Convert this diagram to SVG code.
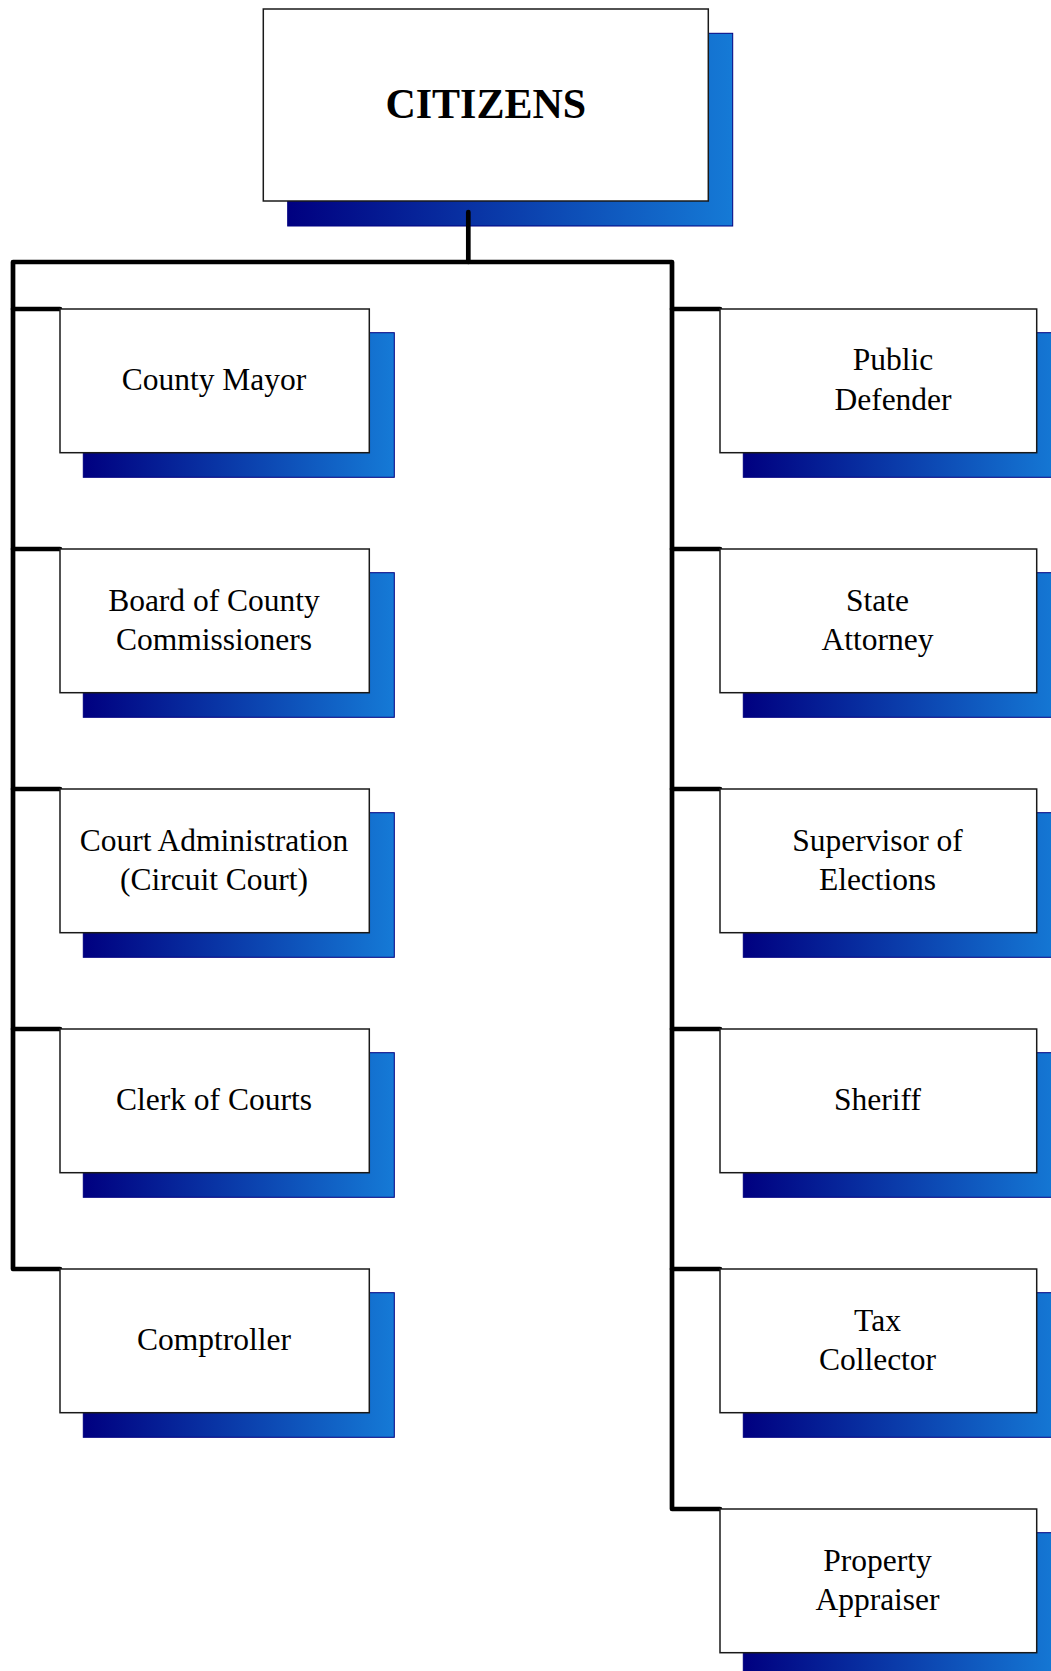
<svg xmlns="http://www.w3.org/2000/svg" width="1051" height="1671" viewBox="0 0 1051 1671">
<defs>
<linearGradient id="shade" x1="0" y1="0" x2="1" y2="0">
<stop offset="0" stop-color="#000080"/>
<stop offset="1" stop-color="#157ad6"/>
</linearGradient>
<style>
.sh{fill:url(#shade);stroke:#000080;stroke-width:1}
.bx{fill:#ffffff;stroke:#1a1a1a;stroke-width:1.5}
.t{font-family:"Liberation Serif","Times New Roman",serif;font-size:31.5px;fill:#000;text-anchor:middle}
.tb{font-family:"Liberation Serif","Times New Roman",serif;font-size:42px;font-weight:bold;fill:#000;text-anchor:middle}
.c{fill:none;stroke:#000;stroke-width:4.7;stroke-linecap:round;stroke-linejoin:round}
</style>
</defs>
<rect width="1051" height="1671" fill="#ffffff"/>
<g id="citizens">
<rect class="sh" x="287.7" y="33.3" width="445" height="192.7"/>
<rect class="bx" x="263.3" y="9" width="445" height="192"/>
<text class="tb" x="485.8" y="118">CITIZENS</text>
</g>
<g id="connectors">
<path class="c" d="M468.3 212 V262"/>
<path class="c" d="M60 309 H13 V262 H672 V1509 H720"/>
<path class="c" d="M13 309 V1269 H60"/>
<path class="c" d="M13 549 H60 M13 789 H60 M13 1029 H60"/>
<path class="c" d="M672 309 H720 M672 549 H720 M672 789 H720 M672 1029 H720 M672 1269 H720"/>
</g>
<g id="county-mayor">
<rect class="sh" x="83.3" y="332.7" width="311" height="144.6"/>
<rect class="bx" x="60" y="309" width="309.3" height="143.7"/>
<text class="t" x="214" y="390">County Mayor</text>
</g>
<g id="board">
<rect class="sh" x="83.3" y="572.7" width="311" height="144.6"/>
<rect class="bx" x="60" y="549" width="309.3" height="143.7"/>
<text class="t" x="214" y="611">Board of County</text>
<text class="t" x="214" y="650">Commissioners</text>
</g>
<g id="court-admin">
<rect class="sh" x="83.3" y="812.7" width="311" height="144.6"/>
<rect class="bx" x="60" y="789" width="309.3" height="143.7"/>
<text class="t" x="214" y="851">Court Administration</text>
<text class="t" x="214" y="890">(Circuit Court)</text>
</g>
<g id="clerk">
<rect class="sh" x="83.3" y="1052.7" width="311" height="144.6"/>
<rect class="bx" x="60" y="1029" width="309.3" height="143.7"/>
<text class="t" x="214" y="1110">Clerk of Courts</text>
</g>
<g id="comptroller">
<rect class="sh" x="83.3" y="1292.7" width="311" height="144.6"/>
<rect class="bx" x="60" y="1269" width="309.3" height="143.7"/>
<text class="t" x="214" y="1350">Comptroller</text>
</g>
<g id="public-defender">
<rect class="sh" x="743.3" y="332.7" width="317" height="144.6"/>
<rect class="bx" x="720" y="309" width="316.7" height="143.7"/>
<text class="t" x="893" y="370">Public</text>
<text class="t" x="893" y="410">Defender</text>
</g>
<g id="state-attorney">
<rect class="sh" x="743.3" y="572.7" width="317" height="144.6"/>
<rect class="bx" x="720" y="549" width="316.7" height="143.7"/>
<text class="t" x="877.5" y="611">State</text>
<text class="t" x="877.5" y="650">Attorney</text>
</g>
<g id="supervisor">
<rect class="sh" x="743.3" y="812.7" width="317" height="144.6"/>
<rect class="bx" x="720" y="789" width="316.7" height="143.7"/>
<text class="t" x="877.5" y="851">Supervisor of</text>
<text class="t" x="877.5" y="890">Elections</text>
</g>
<g id="sheriff">
<rect class="sh" x="743.3" y="1052.7" width="317" height="144.6"/>
<rect class="bx" x="720" y="1029" width="316.7" height="143.7"/>
<text class="t" x="877.5" y="1110">Sheriff</text>
</g>
<g id="tax-collector">
<rect class="sh" x="743.3" y="1292.7" width="317" height="144.6"/>
<rect class="bx" x="720" y="1269" width="316.7" height="143.7"/>
<text class="t" x="877.5" y="1331">Tax</text>
<text class="t" x="877.5" y="1370">Collector</text>
</g>
<g id="property-appraiser">
<rect class="sh" x="743.3" y="1532.7" width="317" height="144.6"/>
<rect class="bx" x="720" y="1509" width="316.7" height="143.7"/>
<text class="t" x="877.5" y="1571">Property</text>
<text class="t" x="877.5" y="1610">Appraiser</text>
</g>
</svg>
